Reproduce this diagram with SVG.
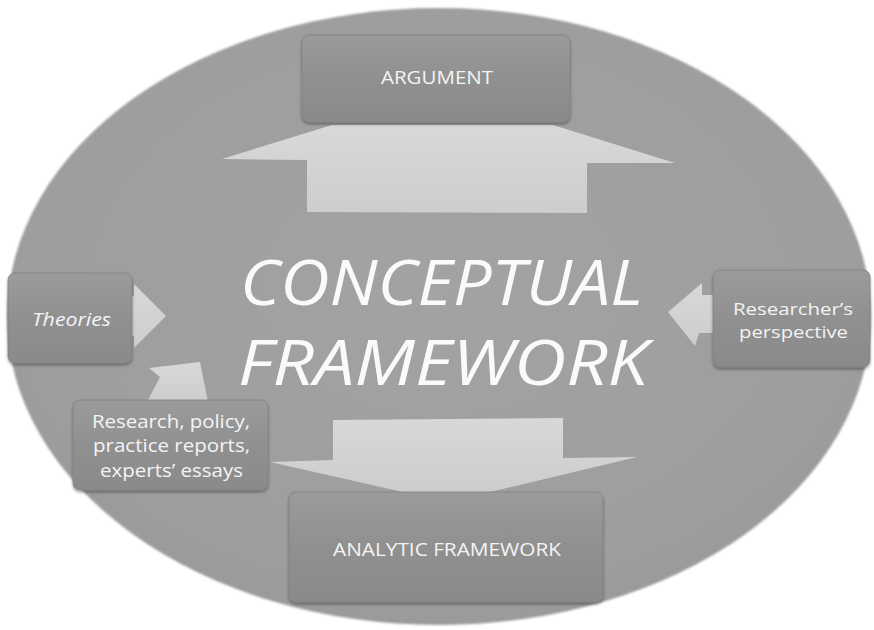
<svg xmlns="http://www.w3.org/2000/svg" width="874" height="630" viewBox="0 0 874 630">
  <defs>
    <radialGradient id="ovalFill" cx="50%" cy="45%" r="60%">
      <stop offset="0" stop-color="#a3a3a3"/>
      <stop offset="0.8" stop-color="#9e9e9e"/>
      <stop offset="1" stop-color="#979797"/>
    </radialGradient>
    <linearGradient id="boxFill" x1="0" y1="0" x2="0" y2="1">
      <stop offset="0" stop-color="#9b9b9b"/>
      <stop offset="0.5" stop-color="#909090"/>
      <stop offset="1" stop-color="#8a8a8a"/>
    </linearGradient>
    <linearGradient id="arrowFill" x1="0" y1="0" x2="0" y2="1">
      <stop offset="0" stop-color="#d8d8d8"/>
      <stop offset="1" stop-color="#cdcdcd"/>
    </linearGradient>
    <filter id="soft" x="-10%" y="-10%" width="120%" height="130%">
      <feDropShadow dx="0" dy="2" stdDeviation="1.6" flood-color="#000" flood-opacity="0.35"/>
    </filter>
    <filter id="edge" x="-5%" y="-5%" width="110%" height="110%">
      <feGaussianBlur stdDeviation="1.2"/>
    </filter>
  </defs>
  <style>
    .box { fill: url(#boxFill); stroke: #808080; stroke-width: 0.8; filter: url(#soft); }
    .arrow { fill: url(#arrowFill); stroke: none; }
    .lbl { font-family: "Open Sans", "Liberation Sans", sans-serif; fill: #f4f4f4; font-size: 19px; text-anchor: middle; }
    .sm { font-size: 17px; }
    .it { font-style: italic; }
    .title { font-family: "Open Sans", "Liberation Sans", sans-serif; font-style: italic; fill: #fafafa; font-size: 62px; text-anchor: middle; }
  </style>

  <rect x="0" y="0" width="874" height="630" fill="#ffffff"/>

  <!-- background oval -->
  <ellipse cx="439" cy="316.5" rx="432" ry="308.5" fill="url(#ovalFill)" filter="url(#edge)"/>

  <!-- arrows -->
  <g id="connectors">
    <polygon class="arrow" points="307,212 307,160 222,159 332,125 553,125 675,163 587,163 587,213"/>
    <polygon class="arrow" points="333,420 563,418 563,458 637,457 490,492 403,492 270,462 333,460"/>
    <polygon class="arrow" points="126,296 134,296 134,284 166,316 134,348 134,336 126,336"/>
    <polygon class="arrow" points="149,368 200,362 208,402 147,402 160,377"/>
    <polygon class="arrow" points="668,312 702,283 702,295 716,295 716,333 699,333 695,346"/>
  </g>

  <g id="argument">
    <rect class="box" x="302" y="35" width="268" height="87" rx="7"/>
    <text class="lbl" x="437" y="84" textLength="112" lengthAdjust="spacingAndGlyphs">ARGUMENT</text>
  </g>

  <g id="theories">
    <rect class="box" x="8" y="273" width="124" height="90" rx="7"/>
    <text class="lbl it" x="71.5" y="326" textLength="79" lengthAdjust="spacingAndGlyphs">Theories</text>
  </g>

  <g id="sources">
    <rect class="box" x="73" y="400" width="195" height="90" rx="7"/>
    <text class="lbl" x="171" y="428" textLength="158" lengthAdjust="spacingAndGlyphs">Research, policy,</text>
    <text class="lbl" x="171.5" y="452" textLength="157" lengthAdjust="spacingAndGlyphs">practice reports,</text>
    <text class="lbl" x="171.5" y="477" textLength="143" lengthAdjust="spacingAndGlyphs">experts’ essays</text>
  </g>

  <g id="perspective">
    <rect class="box" x="713" y="270" width="157" height="97" rx="7"/>
    <text class="lbl sm" x="793" y="315" textLength="120" lengthAdjust="spacingAndGlyphs">Researcher’s</text>
    <text class="lbl sm" x="793.5" y="338" textLength="109" lengthAdjust="spacingAndGlyphs">perspective</text>
  </g>

  <g id="analytic">
    <rect class="box" x="289" y="492" width="314" height="110" rx="7"/>
    <text class="lbl" x="447" y="556" textLength="228" lengthAdjust="spacingAndGlyphs">ANALYTIC FRAMEWORK</text>
  </g>

  <g id="conceptual">
    <text class="title" x="441.5" y="305" textLength="403" lengthAdjust="spacingAndGlyphs">CONCEPTUAL</text>
    <text class="title" x="443" y="385" textLength="410" lengthAdjust="spacingAndGlyphs">FRAMEWORK</text>
  </g>
</svg>
